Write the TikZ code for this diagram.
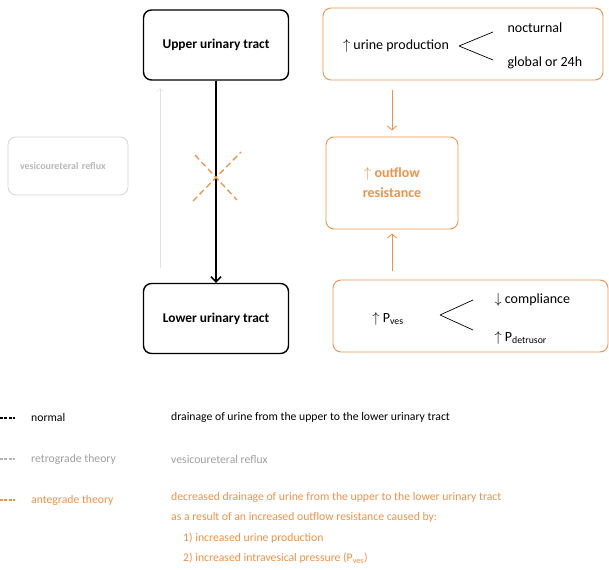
\documentclass[tikz,border=0pt]{standalone}
\usepackage{fontspec}
\setmainfont{Carlito}
\usetikzlibrary{positioning,arrows.meta}
\definecolor{antegrade}{RGB}{240,146,72}
\definecolor{retrograde}{RGB}{160,160,160}
\newcommand{\forkat}[3]% tip, dx, dy
{(#1) -- ++(#2,-#3) (#1) -- ++(#2,#3)
}

\begin{document}
\begin{tikzpicture}[x=1pt,y=-1pt,font=\fontsize{11.7}{14}\selectfont,
  tract/.style={draw,rounded corners=8pt,line width=1.4pt,minimum width=145pt,minimum height=70pt,inner sep=0pt,font=\fontsize{13.4}{16}\selectfont\bfseries},
  refluxbox/.style={draw=retrograde!45,rounded corners=8pt,line width=0.8pt,minimum height=58pt,inner xsep=12pt,text width=96pt,align=left,text=retrograde!75,font=\fontsize{10}{12}\selectfont\bfseries},
  causebox/.style={draw=antegrade,rounded corners=8pt,line width=0.9pt,inner sep=0pt},
  causetext/.style={font=\fontsize{14}{17}\selectfont},
  flow/.style={antegrade,line width=0.8pt,-{Straight Barb[length=4pt,width=9pt]}},
  keyline/.style={line width=1.1pt,dash pattern=on 3pt off 1.4pt}
]
\useasboundingbox (0,0) rectangle (609,569);

\node[tract] (upper) at (216,45) {Upper urinary tract};
\node[tract] (lower) at (216,318.5) {Lower urinary tract};
\draw[line width=1.5pt,-{Straight Barb[length=5pt,width=10pt]}] (upper) -- (lower);

\node[refluxbox] (reflux) at (68,166) {vesicoureteral reflux};
\coordinate (refluxfoot) at (160,268);
\coordinate (refluxhead) at (160,88);
\draw[retrograde!30,line width=0.7pt,-{Straight Barb[length=3pt,width=6pt]}] (refluxfoot) -- (refluxhead);

\coordinate (blocked) at (216,177);
\draw[antegrade,line width=1.3pt,dash pattern=on 6pt off 3.5pt] ([shift={(-23,24)}]blocked) -- ([shift={(25,-25)}]blocked);
\draw[antegrade,line width=1.3pt,dash pattern=on 6pt off 3.5pt] ([shift={(-21,-22)}]blocked) -- ([shift={(21,23)}]blocked);

\node[causebox,minimum width=280pt,minimum height=72pt] (production) at (463,44) {};
\node[causetext] (prodtext) at (396,46) {$\uparrow$ urine production};
\coordinate (prodfork) at (459,46);
\draw[line width=0.7pt] \forkat{prodfork}{34}{14};
\node[causetext,anchor=west] (nocturnal) at (504,28) {nocturnal};
\node[causetext,anchor=west] (global) at (504,63) {global or 24h};

\node[causebox,minimum width=132pt,minimum height=92pt,align=center,text=antegrade,font=\fontsize{14}{20}\selectfont\bfseries] (resist) at (392,183) {$\uparrow$ outflow\\resistance};

\node[causebox,minimum width=275pt,minimum height=72pt] (pressure) at (470.5,316) {};
\node[causetext] (pves) at (388,319) {$\uparrow$ P\textsubscript{ves}};
\coordinate (presfork) at (440,315);
\draw[line width=0.7pt] \forkat{presfork}{33}{15};
\node[causetext,anchor=west] (compliance) at (491,300) {$\downarrow$ compliance};
\node[causetext,anchor=west] (detrusor) at (491,338) {$\uparrow$ P\textsubscript{detrusor}};

\draw[flow,shorten <=10pt,shorten >=6pt] (production.south -| resist) -- (resist.north);
\draw[flow,shorten <=9pt,shorten >=4pt] (pressure.north -| resist) -- (resist.south);

\draw[keyline] (0,418) -- (15,418);
\draw[keyline,retrograde!80] (0,459) -- (15,459);
\draw[keyline,antegrade] (0,500) -- (15,500);

\node[anchor=west,inner sep=0pt] (normal) at (31,417) {normal};
\node[anchor=west,inner sep=0pt,text=retrograde] (retro) at (31,459) {retrograde theory};
\node[anchor=west,inner sep=0pt,text=antegrade] (ante) at (31,500) {antegrade theory};

\node[anchor=west,inner sep=0pt] (normaltext) at (171,417) {drainage of urine from the upper to the lower urinary tract};
\node[anchor=west,inner sep=0pt,text=retrograde] (retrotext) at (171,459) {vesicoureteral reflux};
\node[anchor=north west,inner sep=0pt,text=antegrade,align=left,font=\fontsize{11.7}{20.5}\selectfont] (antetext) at (171,492) {decreased drainage of urine from the upper to the lower urinary tract\\as a result of an increased outflow resistance caused by:\\\hspace*{12pt}1) increased urine production\\\hspace*{12pt}2) increased intravesical pressure (P\textsubscript{ves})};
\end{tikzpicture}
\end{document}
